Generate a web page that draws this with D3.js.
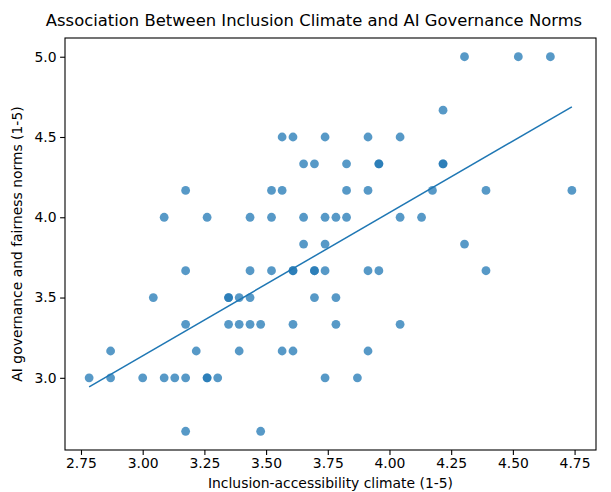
<!DOCTYPE html>
<html>
<head>
<meta charset="utf-8">
<script src="https://cdn.jsdelivr.net/npm/d3@7"></script>
<style>
  body { margin: 0; background: #fff; }
  text { font-family: "DejaVu Sans", sans-serif; fill: #000; }
</style>
</head>
<body>
<div class="chart"></div>
<script>
// climate score (x) and governance score (y) for each respondent
const climate = [
  4.304, 4.522, 4.652,
  4.217,
  3.565, 3.609, 3.739, 3.913, 4.043,
  3.652, 3.696, 3.826, 3.957, 3.957, 4.217, 4.217,
  3.174, 3.522, 3.565, 3.826, 3.913, 4.174, 4.391, 4.739,
  3.087, 3.261, 3.435, 3.522, 3.652, 3.739, 3.783, 3.826, 4.043, 4.130,
  3.652, 3.739, 4.304,
  3.174, 3.435, 3.522, 3.609, 3.609, 3.696, 3.696, 3.739, 3.913, 3.957, 4.391,
  3.043, 3.348, 3.348, 3.391, 3.435, 3.696, 3.783,
  3.174, 3.348, 3.391, 3.435, 3.478, 3.609, 3.783, 4.043,
  2.870, 3.217, 3.391, 3.565, 3.609, 3.913,
  2.783, 2.870, 3.000, 3.087, 3.130, 3.174, 3.261, 3.261, 3.304, 3.739, 3.870,
  3.174, 3.478
];
const norms = [
  5.0, 5.0, 5.0,
  4.667,
  4.5, 4.5, 4.5, 4.5, 4.5,
  4.333, 4.333, 4.333, 4.333, 4.333, 4.333, 4.333,
  4.167, 4.167, 4.167, 4.167, 4.167, 4.167, 4.167, 4.167,
  4.0, 4.0, 4.0, 4.0, 4.0, 4.0, 4.0, 4.0, 4.0, 4.0,
  3.833, 3.833, 3.833,
  3.667, 3.667, 3.667, 3.667, 3.667, 3.667, 3.667, 3.667, 3.667, 3.667, 3.667,
  3.5, 3.5, 3.5, 3.5, 3.5, 3.5, 3.5,
  3.333, 3.333, 3.333, 3.333, 3.333, 3.333, 3.333, 3.333,
  3.167, 3.167, 3.167, 3.167, 3.167, 3.167,
  3.0, 3.0, 3.0, 3.0, 3.0, 3.0, 3.0, 3.0, 3.0, 3.0, 3.0,
  2.667, 2.667
];
// fitted trend line, read at the lowest and highest climate score
const fitClimate = [2.783, 4.739];
const fitNorms = [2.944, 4.688];
const xTicks = [2.75, 3.00, 3.25, 3.50, 3.75, 4.00, 4.25, 4.50, 4.75];
const yTicks = [3.0, 3.5, 4.0, 4.5, 5.0];

const points = climate.map((c, i) => ({x: c, y: norms[i]}));

// set container dimensions
const width = 611;
const height = 492;
const margin = {top: 38, right: 15, bottom: 42, left: 65};
const innerW = width - margin.left - margin.right;
const innerH = height - margin.top - margin.bottom;

// pad the data range by 5% like matplotlib does
function padded(values) {
  const [lo, hi] = d3.extent(values);
  const pad = (hi - lo) * 0.05;
  return [lo - pad, hi + pad];
}

const x = d3.scaleLinear().domain(padded(climate)).range([0, innerW]);
const y = d3.scaleLinear().domain(padded(norms)).range([innerH, 0]);

const svg = d3.select('.chart')
  .append('svg')
  .attr('width', width)
  .attr('height', height);

const g = svg.append('g')
  .attr('transform', 'translate(' + margin.left + ',' + margin.top + ')');

// scatter points
g.selectAll('circle')
  .data(points)
  .enter()
  .append('circle')
  .attr('cx', d => x(d.x))
  .attr('cy', d => y(d.y))
  .attr('r', 4.4)
  .style('fill', '#1f77b4')
  .style('opacity', 0.75);

// trend line
const fit = fitClimate.map((c, i) => [c, fitNorms[i]]);
g.append('path')
  .datum(fit)
  .attr('d', d3.line().x(d => x(d[0])).y(d => y(d[1])))
  .style('fill', 'none')
  .style('stroke', '#1f77b4')
  .style('stroke-width', 1.5);

// axes
const xAxis = g.append('g')
  .attr('transform', 'translate(0,' + innerH + ')')
  .call(d3.axisBottom(x).tickValues(xTicks).tickFormat(d3.format('.2f')).tickSize(4.9).tickPadding(3.5));

const yAxis = g.append('g')
  .call(d3.axisLeft(y).tickValues(yTicks).tickFormat(d3.format('.1f')).tickSize(4.9).tickPadding(3.5));

[xAxis, yAxis].forEach(a => {
  a.select('.domain').remove();
  a.selectAll('line').style('stroke', '#000').style('stroke-width', 1.1);
  a.selectAll('text').attr('font-size', 13.9).attr('font-family', 'DejaVu Sans');
});

// frame
g.append('rect')
  .attr('width', innerW)
  .attr('height', innerH)
  .style('fill', 'none')
  .style('stroke', '#000')
  .style('stroke-width', 1.1);

// title and labels
svg.append('text')
  .attr('x', 314)
  .attr('y', 26)
  .attr('text-anchor', 'middle')
  .attr('font-size', 16.4)
  .text('Association Between Inclusion Climate and AI Governance Norms');

svg.append('text')
  .attr('x', margin.left + innerW / 2)
  .attr('y', height - 4)
  .attr('text-anchor', 'middle')
  .attr('font-size', 13.9)
  .text('Inclusion-accessibility climate (1-5)');

svg.append('text')
  .attr('transform', 'translate(22,' + (margin.top + innerH / 2) + ') rotate(-90)')
  .attr('text-anchor', 'middle')
  .attr('font-size', 13.9)
  .text('AI governance and fairness norms (1-5)');
</script>
</body>
</html>
